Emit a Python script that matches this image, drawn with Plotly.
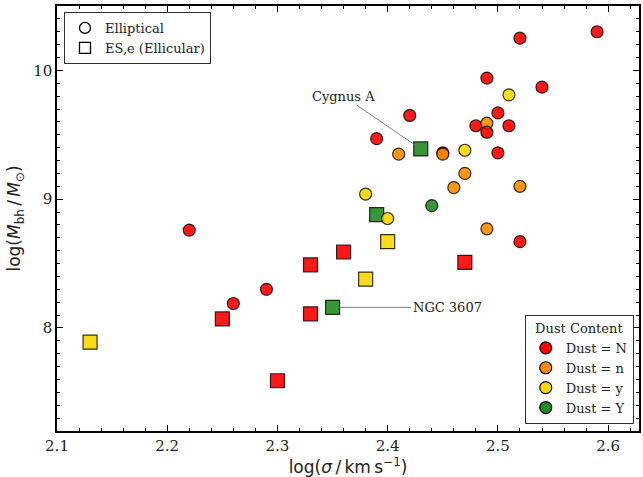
import plotly.graph_objects as go

# ---- data ----
ell_sigma = [2.22, 2.26, 2.29, 2.38, 2.39, 2.40, 2.41, 2.42, 2.44, 2.45, 2.45, 2.46, 2.47, 2.47,
             2.48, 2.49, 2.49, 2.49, 2.49, 2.50, 2.50, 2.51, 2.51, 2.52, 2.52, 2.52, 2.54, 2.59]
ell_mbh = [8.76, 8.19, 8.30, 9.04, 9.47, 8.85, 9.35, 9.65, 8.95, 9.36, 9.35, 9.09, 9.38, 9.20,
           9.57, 9.94, 9.59, 9.52, 8.77, 9.67, 9.36, 9.81, 9.57, 10.25, 9.10, 8.67, 9.87, 10.30]
ell_dust = ["N", "N", "N", "y", "N", "y", "n", "N", "Y", "N", "n", "n", "y", "n",
            "N", "N", "n", "N", "n", "N", "N", "y", "N", "N", "n", "N", "N", "N"]

es_sigma = [2.13, 2.25, 2.30, 2.33, 2.33, 2.35, 2.36, 2.38, 2.39, 2.40, 2.43, 2.47]
es_mbh = [7.89, 8.07, 7.59, 8.49, 8.11, 8.16, 8.59, 8.38, 8.88, 8.67, 9.39, 8.51]
es_dust = ["y", "N", "N", "N", "N", "Y", "N", "y", "Y", "y", "Y", "N"]

dust_levels = ["N", "n", "y", "Y"]
dust_colors = {"N": "rgba(255,0,0,0.9)", "n": "rgba(255,140,0,0.9)",
               "y": "rgba(255,215,0,0.9)", "Y": "rgba(34,139,34,0.9)"}
dust_legend_colors = {"N": "#ff0000", "n": "#ff8c00", "y": "#ffd700", "Y": "#228b22"}

labels = [("Cygnus A", 2.43, 9.39, 2.36, 9.80), ("NGC 3607", 2.35, 8.16, 2.421, 8.16)]

serif = "DejaVu Serif, serif"
sans = "DejaVu Sans, sans-serif"

fig = go.Figure()

# squares first, circles on top
fig.add_trace(go.Scatter(
    x=es_sigma, y=es_mbh, mode="markers", showlegend=False,
    marker=dict(symbol="square", size=14, color=[dust_colors[d] for d in es_dust],
                line=dict(color="rgba(0,0,0,0.8)", width=1.2))))
fig.add_trace(go.Scatter(
    x=ell_sigma, y=ell_mbh, mode="markers", showlegend=False,
    marker=dict(symbol="circle", size=12, color=[dust_colors[d] for d in ell_dust],
                line=dict(color="rgba(0,0,0,0.8)", width=1.2))))

# legend 1: morphology
fig.add_trace(go.Scatter(x=[None], y=[None], mode="markers", name="Elliptical", legend="legend",
                         marker=dict(symbol="circle", size=11, color="white",
                                     line=dict(color="black", width=1.3))))
fig.add_trace(go.Scatter(x=[None], y=[None], mode="markers", name="ES,e (Ellicular)", legend="legend",
                         marker=dict(symbol="square", size=11, color="white",
                                     line=dict(color="black", width=1.3))))
# legend 2: dust
for d in dust_levels:
    fig.add_trace(go.Scatter(x=[None], y=[None], mode="markers", name=f"Dust = {d}", legend="legend2",
                             marker=dict(symbol="circle", size=12, color=dust_legend_colors[d],
                                         line=dict(color="black", width=1.2))))

for text, x, y, tx, ty in labels:
    fig.add_annotation(x=x, y=y, ax=tx, ay=ty, axref="x", ayref="y", text=text,
                       showarrow=True, arrowhead=0, arrowwidth=1, arrowcolor="#808080",
                       standoff=7, xanchor="left" if text == "NGC 3607" else "center",
                       font=dict(family=serif, size=13, color="#222"))

axis_common = dict(showline=True, linecolor="black", linewidth=1.5, mirror="allticks",
                   ticks="inside", ticklen=6, tickwidth=1.3, tickcolor="black",
                   showgrid=False, zeroline=False,
                   tickfont=dict(family=serif, size=15, color="#222"))

fig.update_xaxes(range=[2.1, 2.628], dtick=0.1, tick0=2.1, **axis_common,
                 minor=dict(ticks="inside", dtick=0.02, ticklen=3, tickwidth=1, tickcolor="black"),
                 title=dict(text="log(<i>σ</i>\u2009/\u2009km\u2009s<sup>−1</sup>)",
                            font=dict(family=sans, size=17, color="#222"), standoff=7))
fig.update_yaxes(range=[7.2, 10.5], dtick=1, tick0=8, **axis_common,
                 minor=dict(ticks="inside", dtick=0.1, ticklen=3, tickwidth=1, tickcolor="black"),
                 title=dict(text="log(<i>M</i><sub>bh</sub>\u2009/\u2009<i>M</i><sub>⊙</sub>)",
                            font=dict(family=sans, size=17, color="#222"), standoff=8))

fig.update_layout(
    width=643, height=477, margin=dict(l=57, r=2, t=6, b=46),
    plot_bgcolor="white", paper_bgcolor="white",
    font=dict(family=serif, size=13, color="#222"),
    legend=dict(x=0.012, y=0.986, xanchor="left", yanchor="top",
                bordercolor="#333", borderwidth=1, bgcolor="white",
                font=dict(family=serif, size=13, color="#222"), itemwidth=30,
                tracegroupgap=0),
    legend2=dict(x=0.991, y=0.0165, xanchor="right", yanchor="bottom",
                 bordercolor="#333", borderwidth=1, bgcolor="white",
                 title=dict(text="Dust Content", side="top center",
                            font=dict(family=serif, size=13, color="#222")),
                 font=dict(family=serif, size=13, color="#222"), itemwidth=30,
                 tracegroupgap=0),
)

fig.write_html("out.html")
